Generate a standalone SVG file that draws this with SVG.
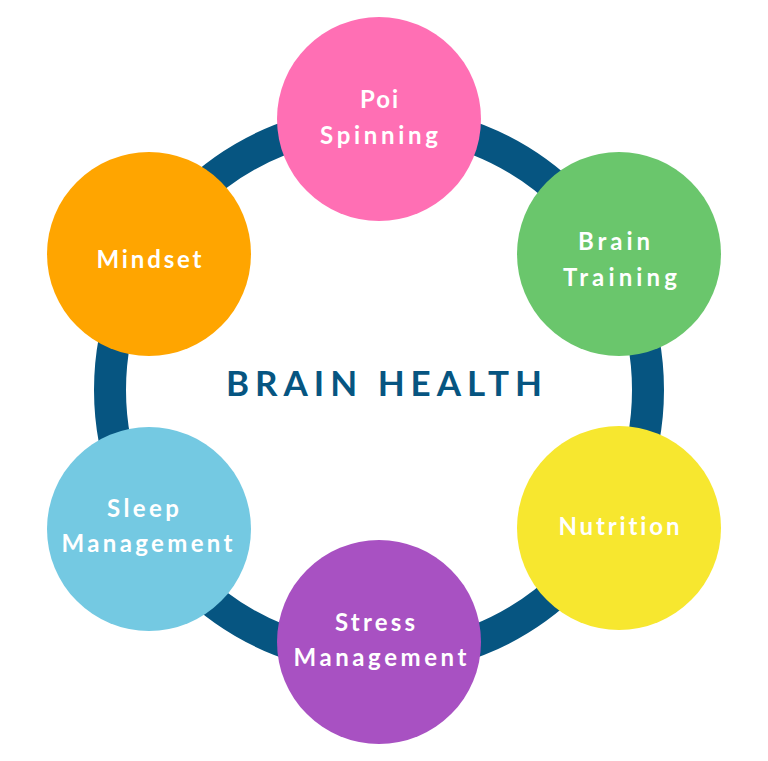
<svg xmlns="http://www.w3.org/2000/svg" width="768" height="761" viewBox="0 0 768 761">
<style>
.lbl{font-family:Lato,"Open Sans","Liberation Sans",sans-serif;font-weight:700;font-size:24px;fill:#fff;text-anchor:middle;font-variant-ligatures:none}
.title{font-family:Lato,"Open Sans","Liberation Sans",sans-serif;font-weight:700;font-size:35px;fill:#065581;text-anchor:middle;font-variant-ligatures:none}
</style>
<rect width="768" height="761" fill="#fff"/>
<g id="connectors">
<circle cx="379" cy="390" r="269" fill="none" stroke="#065581" stroke-width="32"/>
</g>
<g id="center"><text class="title" x="384" y="395.5" textLength="316" lengthAdjust="spacing">BRAIN HEALTH</text></g>
<g id="poi"><circle cx="379" cy="119" r="102" fill="#FF6FB4"/><text class="lbl" x="379" y="108" textLength="38" lengthAdjust="spacing">Poi</text><text class="lbl" x="379" y="144" textLength="118" lengthAdjust="spacing">Spinning</text></g>
<g id="brain-training"><circle cx="619" cy="254" r="102" fill="#6AC66C"/><text class="lbl" x="614" y="250" textLength="72" lengthAdjust="spacing">Brain</text><text class="lbl" x="620" y="286" textLength="114" lengthAdjust="spacing">Training</text></g>
<g id="nutrition"><circle cx="619" cy="528" r="102" fill="#F7E72F"/><text class="lbl" x="619" y="535" textLength="121" lengthAdjust="spacing">Nutrition</text></g>
<g id="stress"><circle cx="379" cy="642" r="102" fill="#A851C2"/><text class="lbl" x="375" y="631" textLength="80" lengthAdjust="spacing">Stress</text><text class="lbl" x="380" y="666" textLength="173" lengthAdjust="spacing">Management</text></g>
<g id="sleep"><circle cx="149" cy="529" r="102" fill="#74C9E2"/><text class="lbl" x="143" y="517" textLength="72" lengthAdjust="spacing">Sleep</text><text class="lbl" x="147" y="552" textLength="171" lengthAdjust="spacing">Management</text></g>
<g id="mindset"><circle cx="149" cy="254" r="102" fill="#FFA500"/><text class="lbl" x="149" y="268" textLength="105" lengthAdjust="spacing">Mindset</text></g>
</svg>
